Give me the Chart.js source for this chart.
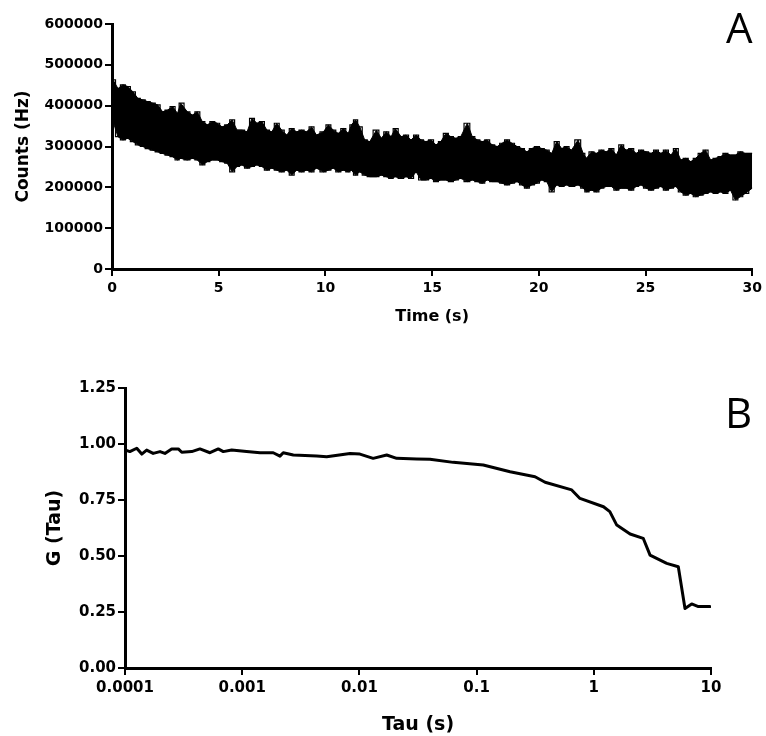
<!DOCTYPE html>
<html><head><meta charset="utf-8">
<script src="https://cdn.jsdelivr.net/npm/chart.js@4"></script>
<style>
body{margin:0;background:#fff;}
#wrap{position:relative;width:766px;height:736px;overflow:hidden;background:#fff}
canvas{position:absolute;left:0}
#cA{top:0;width:766px;height:340px}
#cB{top:360px;width:766px;height:376px}
.panel{position:absolute;font-family:'Open Sans',sans-serif;font-size:42px;line-height:42px;color:#000}
</style></head><body>
<div id="wrap">
<canvas id="cA" width="766" height="340"></canvas>
<canvas id="cB" width="766" height="376"></canvas>
<div class="panel" style="left:726px;top:6px">A</div>
<div class="panel" style="left:725px;top:391px">B</div>
</div>
<script>
// ---- Panel A: photon count trace (envelope, in kHz) ----
const timeA = [0,0.05,0.28,0.51,0.74,0.98,1.21,1.44,1.67,1.91,2.14,2.37,2.60,2.84,3.07,3.22,3.53,3.77,4.00,4.23,4.47,4.70,4.93,5.16,5.40,5.63,5.86,6.09,6.33,6.56,6.79,7.02,7.26,7.49,7.72,7.95,8.19,8.42,8.65,8.88,9.12,9.35,9.58,
 9.91,10.14,10.37,10.60,10.84,11.07,11.22,11.41,11.61,11.84,12.08,12.39,12.62,12.85,13.08,13.27,13.55,13.78,14.01,14.25,14.48,14.71,14.95,15.18,15.41,15.64,15.88,16.11,16.34,16.65,16.88,17.12,17.35,17.58,17.81,18.05,18.28,18.51,18.74,18.98,19.21,19.44,19.67,19.91,
 20.14,20.37,20.60,20.84,21.07,21.30,21.53,21.84,22.08,22.23,22.47,22.70,22.93,23.16,23.40,23.63,23.86,24.09,24.33,24.56,24.79,25.02,25.26,25.49,25.72,25.95,26.19,26.42,26.65,26.88,27.12,27.35,27.58,27.81,28.05,28.28,28.51,28.74,28.98,29.21,29.44,29.67,30.00];
const upperA_k = [487,463,442,451,447,434,418,414,410,406,402,385,389,398,381,406,385,377,385,361,353,361,357,348,353,365,340,340,336,369,357,361,340,336,357,340,328,344,336,340,336,348,328,
 336,353,340,332,344,332,353,365,348,316,312,340,320,336,324,344,324,328,316,328,316,312,316,304,312,332,324,320,324,357,324,316,312,316,304,300,308,316,308,300,295,287,295,300,
 295,291,283,312,295,300,291,316,283,271,287,283,291,287,295,279,304,291,295,283,291,287,283,291,283,291,279,295,267,271,263,271,283,291,267,271,275,283,279,279,287,283,283];
const lowerA_k = [380,361,324,316,320,312,304,300,295,291,287,283,279,275,267,271,267,271,267,255,263,267,267,263,259,238,251,255,247,251,255,251,242,247,242,238,242,230,242,238,242,238,247,
 238,242,247,238,242,238,242,230,238,230,226,226,230,226,222,226,222,226,222,238,218,218,222,214,218,218,214,218,222,214,218,214,210,218,214,214,210,206,210,214,206,198,206,210,
 218,214,189,206,202,206,202,206,198,189,193,189,198,202,202,193,198,198,193,202,206,198,193,198,202,193,198,202,189,181,185,177,181,185,189,185,189,185,193,169,177,185,198];
const yTicksA = [0,100000,200000,300000,400000,500000,600000];
const xTicksA = [0,5,10,15,20,25,30];

// ---- Panel B: autocorrelation G(Tau) ----
const tauB = [1e-4,1.10e-4,1.26e-4,1.39e-4,1.53e-4,1.74e-4,1.99e-4,2.19e-4,2.50e-4,2.85e-4,3.05e-4,3.71e-4,4.36e-4,5.31e-4,6.25e-4,6.90e-4,8.13e-4,1.09e-3,1.42e-3,1.84e-3,2.10e-3,2.24e-3,2.73e-3,4.32e-3,5.26e-3,8.32e-3,1.01e-2,1.31e-2,1.71e-2,2.08e-2,3.08e-2,4.00e-2,6.32e-2,0.114,0.193,0.315,0.384,0.648,0.762,1.21,1.37,1.57,2.04,2.64,3.02,4.19,5.26,6.00,6.84,7.80,9.80];
const gB = [0.973,0.966,0.981,0.955,0.973,0.958,0.966,0.958,0.978,0.978,0.963,0.966,0.978,0.961,0.978,0.966,0.973,0.966,0.961,0.961,0.946,0.961,0.951,0.946,0.943,0.958,0.955,0.936,0.951,0.936,0.933,0.932,0.918,0.906,0.876,0.854,0.829,0.795,0.757,0.72,0.698,0.638,0.598,0.579,0.504,0.467,0.452,0.266,0.286,0.274,0.274];
const xTickValsB = [0.0001,0.001,0.01,0.1,1,10];
const xTickLabelsB = ['0.0001','0.001','0.01','0.1','1','10'];
const yTicksB = [0,0.25,0.5,0.75,1,1.25];

const FONT = 'DejaVu Sans';
function axis(fontSize){
  return {
    border:{display:true,color:'#000',width:3},
    grid:{display:true,drawOnChartArea:false,drawTicks:true,tickLength:7,tickWidth:2,tickColor:'#000',color:'#000',lineWidth:2},
    ticks:{color:'#000',font:{family:FONT,weight:'bold',size:fontSize},padding:2,autoSkip:false,maxRotation:0}
  };
}
function merge(a,b){
  const o = Object.assign({},a);
  for (const k in b){ o[k] = (typeof b[k]==='object' && !Array.isArray(b[k]) && a[k]) ? Object.assign({},a[k],b[k]) : b[k]; }
  return o;
}

const ptsUpper = timeA.map((t,i)=>({x:t,y:upperA_k[i]*1000}));
const ptsLower = timeA.map((t,i)=>({x:t,y:lowerA_k[i]*1000}));

new Chart(document.getElementById('cA'),{
  type:'line',
  data:{datasets:[
    {data:ptsUpper,borderColor:'#000',backgroundColor:'#000',borderWidth:1,pointRadius:0,fill:'+1',tension:0},
    {data:ptsLower,borderColor:'#000',backgroundColor:'#000',borderWidth:1,pointRadius:0,fill:false,tension:0},
    {data:ptsUpper,borderColor:'#000',borderWidth:1.2,pointRadius:0,fill:false,stepped:'middle'},
    {data:ptsLower,borderColor:'#000',borderWidth:1.2,pointRadius:0,fill:false,stepped:'middle'}
  ]},
  options:{
    responsive:false,animation:false,devicePixelRatio:1,
    layout:{padding:{left:0,top:24,right:9,bottom:0}},
    plugins:{legend:{display:false},tooltip:{enabled:false}},
    scales:{
      x:merge(axis(14),{type:'linear',min:0,max:30,
        afterBuildTicks:s=>{s.ticks=xTicksA.map(v=>({value:v}));},
        ticks:{callback:v=>String(v),padding:4},
        afterFit:s=>{s.height=71;},
        title:{display:true,text:'Time (s)',color:'#000',font:{family:FONT,weight:'bold',size:16},padding:{top:0,bottom:14}}}),
      y:merge(axis(14),{type:'linear',min:0,max:600000,
        afterBuildTicks:s=>{s.ticks=yTicksA.map(v=>({value:v}));},
        ticks:{callback:v=>String(v)},
        afterFit:s=>{s.width=112;},
        title:{display:true,text:'Counts (Hz)',color:'#000',font:{family:FONT,weight:'bold',size:17},padding:{top:13,bottom:0}}})
    }
  }
});

new Chart(document.getElementById('cB'),{
  type:'line',
  data:{datasets:[
    {data:tauB.map((t,i)=>({x:t,y:gB[i]})),borderColor:'#000',borderWidth:3,pointRadius:0,fill:false,tension:0,borderJoinStyle:'round',borderCapStyle:'round'}
  ]},
  options:{
    responsive:false,animation:false,devicePixelRatio:1,
    layout:{padding:{left:0,top:28,right:55,bottom:0}},
    plugins:{legend:{display:false},tooltip:{enabled:false}},
    scales:{
      x:merge(axis(15),{type:'logarithmic',min:1e-4,max:10,
        afterBuildTicks:s=>{s.ticks=xTickValsB.map(v=>({value:v}));},
        ticks:{callback:(v,i)=>xTickLabelsB[i],padding:4},
        afterFit:s=>{s.height=68;},
        title:{display:true,text:'Tau (s)',color:'#000',font:{family:FONT,weight:'bold',size:19},padding:{top:0,bottom:0}}}),
      y:merge(axis(15),{type:'linear',min:0,max:1.25,
        afterBuildTicks:s=>{s.ticks=yTicksB.map(v=>({value:v}));},
        ticks:{callback:v=>v.toFixed(2)},
        afterFit:s=>{s.width=125;},
        title:{display:true,text:'G (Tau)',color:'#000',font:{family:FONT,weight:'bold',size:19},padding:{top:44,bottom:0}}})
    }
  }
});
</script>
</body></html>
